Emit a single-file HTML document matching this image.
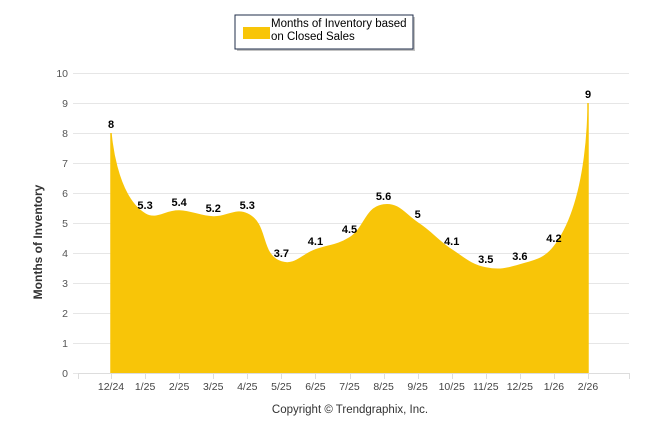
<!DOCTYPE html>
<html><head><meta charset="utf-8"><style>
body{margin:0;background:#fff;}
svg{display:block;font-family:"Liberation Sans",Arial,sans-serif;}
</style></head><body>
<svg id="chart" width="646" height="434">
<g>
<rect x="237" y="17" width="178" height="34" fill="#888" opacity="0.5"/>
<rect x="235" y="15" width="178" height="34" fill="#fff" stroke="#1f2d4a" stroke-width="1"/>
<rect x="243" y="27" width="27" height="12" fill="#f8c508"/>
<text x="271" y="27" font-size="11.5" fill="#000"><tspan x="271">Months of Inventory based</tspan><tspan x="271" dy="13">on Closed Sales</tspan></text>
</g>
<g id="grid"></g><g id="area"></g><g id="axes"></g><g id="labels"></g>
<text x="23" y="223" font-size="12" font-weight="bold" fill="#333" transform="rotate(-90 42 223)" text-anchor="middle">Months of Inventory</text>
<text x="350" y="413" font-size="11.5" fill="#333" text-anchor="middle">Copyright © Trendgraphix, Inc.</text>
</svg>
<script>
const categories=["12/24","1/25","2/25","3/25","4/25","5/25","6/25","7/25","8/25","9/25","10/25","11/25","12/25","1/26","2/26"];
const values=[8,5.3,5.4,5.2,5.3,3.7,4.1,4.5,5.6,5,4.1,3.5,3.6,4.2,9];
const yTicks=[0,1,2,3,4,5,6,7,8,9,10];
const NS="http://www.w3.org/2000/svg";
const x0=111,x1=588,yb=373,yt=73,yMax=10;
const X=i=>x0+(x1-x0)*i/(categories.length-1);
const Y=v=>yb-(yb-yt)*v/yMax;
function mk(t,a,p){const e=document.createElementNS(NS,t);for(const k in a)e.setAttribute(k,a[k]);p.appendChild(e);return e;}
const grid=document.getElementById('grid'),axes=document.getElementById('axes'),area=document.getElementById('area'),labels=document.getElementById('labels');
yTicks.forEach(v=>{
 const l=mk('line',{x1:73,x2:629,y1:Y(v)+0.5,y2:Y(v)+0.5,stroke:'#e6e6e6'},grid);
 
 
 const t=mk('text',{x:68,y:Y(v)+4,'font-size':10.5,fill:'#555','text-anchor':'end'},axes);
 t.textContent=v;
 
 
});
[78].concat(categories.map((c,i)=>X(i))).concat([629]).forEach(x=>{mk('line',{x1:Math.round(x)+0.5,x2:Math.round(x)+0.5,y1:yb,y2:yb+6,stroke:'#ddd'},axes);});
categories.forEach((c,i)=>{
 const t=mk('text',{x:X(i),y:yb+17,'font-size':10.5,fill:'#444','text-anchor':'middle'},axes);
 t.textContent=c;
 
 
});
const pts=values.map((v,i)=>[X(i),Y(v)]);
const sm=1.5,den=sm+1;
let d=`M${pts[0][0]},${pts[0][1]}`;
function ctrl(i){
 const p=pts[i],a=pts[i-1],b=pts[i+1];
 let lx=(sm*p[0]+a[0])/den,ly=(sm*p[1]+a[1])/den,rx=(sm*p[0]+b[0])/den,ry=(sm*p[1]+b[1])/den;
 const cd=Math.sqrt((lx-p[0])**2+(ly-p[1])**2),rd=Math.sqrt((rx-p[0])**2+(ry-p[1])**2);
 const la=Math.atan2(ly-p[1],lx-p[0]),ra=Math.atan2(ry-p[1],rx-p[0]);
 let c=Math.PI/2+(la+ra)/2; if(Math.abs(la-c)>Math.PI/2)c-=Math.PI;
 lx=p[0]+Math.cos(c)*cd;ly=p[1]+Math.sin(c)*cd;rx=p[0]+Math.cos(Math.PI+c)*rd;ry=p[1]+Math.sin(Math.PI+c)*rd;
 return [[lx,ly],[rx,ry]];
}
const cs=pts.map((p,i)=>(i>0&&i<pts.length-1)?ctrl(i):[p,p]);
for(let i=1;i<pts.length;i++){const c1=cs[i-1][1],c2=cs[i][0];d+=` C${c1[0]},${c1[1]} ${c2[0]},${c2[1]} ${pts[i][0]},${pts[i][1]}`;}
const ar=mk('path',{d:d+` L${X(values.length-1)},${yb} L${X(0)},${yb} Z`,fill:'#f8c508',stroke:'#f8c508','stroke-width':1.5,'stroke-linejoin':'miter'},area);


mk('line',{x1:78,x2:629,y1:yb+0.5,y2:yb+0.5,stroke:'#ddd'},axes);
values.forEach((v,i)=>{
 const t=mk('text',{x:X(i),y:Y(v)-5,'font-size':11,'font-weight':'bold',fill:'#000','text-anchor':'middle'},labels);
 t.textContent=v;
 
 
});
</script>
</body></html>
